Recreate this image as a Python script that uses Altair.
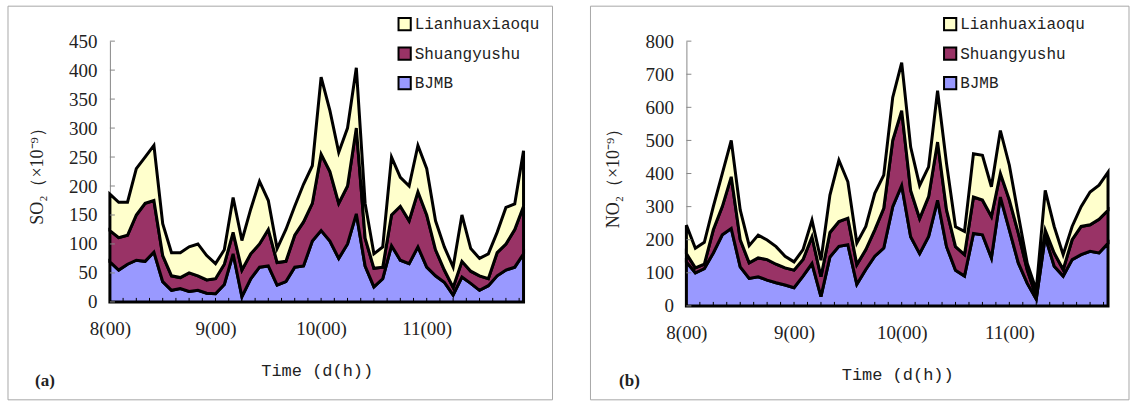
import altair as alt
import pandas as pd

# ---------------- data ----------------
hours = list(range(0, 96, 2))            # hours since day 8, 00h
series_names = ["Lianhuaxiaoqu", "Shuangyushu", "BJMB"]
series_colors = ["#FFFFCC", "#993366", "#9999FF"]
day_ticks = [0, 24, 48, 72]
day_labels = ["8(00)", "9(00)", "10(00)", "11(00)"]
hour_ticks = list(range(0, 94, 3))
so2_ticks = list(range(0, 451, 50))
no2_ticks = list(range(0, 801, 100))

# SO2: upper edge of BJMB, of BJMB+Shuangyushu, and of the total stack
so2_bjmb = [69, 55, 65, 72, 70, 86, 35, 20, 23, 18, 20, 15,
            14, 30, 83, 9, 40, 60, 62, 29, 35, 60, 62, 105,
            123, 105, 75, 100, 152, 62, 26, 40, 97, 72, 66, 95,
            60, 45, 34, 12, 43, 32, 20, 28, 45, 55, 60, 83]
so2_mid = [123, 111, 115, 150, 170, 175, 80, 45, 42, 50, 45, 38,
           40, 65, 120, 55, 83, 100, 125, 68, 70, 115, 138, 170,
           255, 225, 170, 200, 300, 110, 58, 60, 150, 165, 140, 190,
           150, 90, 55, 25, 70, 53, 45, 40, 85, 100, 125, 165]
so2_total = [186, 172, 172, 230, 250, 270, 135, 85, 85, 95, 100, 80,
             66, 90, 180, 106, 160, 208, 175, 92, 125, 165, 203, 235,
             388, 330, 258, 300, 404, 170, 83, 95, 250, 215, 200, 270,
             230, 140, 95, 60, 150, 92, 75, 83, 120, 163, 169, 261]

# NO2
no2_bjmb = [133, 100, 113, 160, 215, 234, 118, 83, 88, 78, 70, 63,
            55, 90, 128, 28, 148, 180, 185, 65, 110, 150, 175, 300,
            364, 209, 158, 210, 319, 179, 108, 90, 219, 215, 145, 329,
            230, 130, 68, 20, 209, 120, 90, 140, 155, 165, 160, 189]
no2_mid = [158, 115, 126, 230, 300, 390, 200, 130, 145, 140, 126, 115,
           108, 140, 209, 88, 222, 255, 265, 125, 170, 230, 295, 500,
           590, 349, 264, 330, 495, 290, 179, 155, 329, 320, 270, 400,
           320, 220, 108, 28, 229, 160, 110, 200, 240, 245, 262, 289]
no2_total = [244, 174, 192, 300, 400, 500, 290, 182, 214, 199, 179, 150,
             133, 170, 259, 138, 335, 440, 375, 190, 240, 340, 395, 630,
             735, 480, 364, 420, 650, 430, 239, 225, 460, 455, 360, 530,
             425, 275, 128, 48, 349, 240, 155, 240, 300, 344, 365, 404]


def stack_frame(bottom, middle, total):
    rows = []
    for i, h in enumerate(hours):
        rows.append({"hour": h, "series": "BJMB", "value": bottom[i], "k": 0})
        rows.append({"hour": h, "series": "Shuangyushu", "value": middle[i] - bottom[i], "k": 1})
        rows.append({"hour": h, "series": "Lianhuaxiaoqu", "value": total[i] - middle[i], "k": 2})
    return pd.DataFrame(rows)


label_expr = " : ".join(
    f"datum.value == {t} ? '{l}'" for t, l in zip(day_ticks, day_labels)
) + " : ''"

SERIF = "Liberation Serif"
MONO = "Liberation Mono"
TXT = "#222222"


def panel(df, yticks, ytitle, w, h, tag, border_left, border_right, legend_x, tag_x):
    xscale = alt.Scale(domain=[0, 94], nice=False, zero=False)
    yscale = alt.Scale(domain=[0, yticks[-1]], nice=False)
    xaxis = alt.Axis(values=day_ticks, labelExpr=label_expr, ticks=False,
                     domain=False, grid=False, labelFlush=False,
                     labelFont=SERIF, labelFontSize=19, labelColor=TXT,
                     labelPadding=18, title="Time (d(h))", titleFont=MONO,
                     titleFontSize=17, titleFontWeight="normal",
                     titleColor=TXT, titlePadding=24)
    yaxis = alt.Axis(values=yticks, ticks=False, grid=False,
                     domainColor="#888888", domainWidth=1,
                     labelFont=SERIF, labelFontSize=19, labelColor=TXT,
                     labelPadding=13, title=ytitle, titleFont=SERIF,
                     titleFontSize=18, titleFontWeight="normal",
                     titleColor=TXT, titlePadding=22)

    border = alt.Chart(pd.DataFrame({"b": [0]})).mark_rect(
        fillOpacity=0, stroke="#a8a8a8", strokeWidth=1
    ).encode(
        x=alt.value(border_left), x2=alt.value(border_right),
        y=alt.value(-35), y2=alt.value(359)
    )

    area = alt.Chart(df).mark_area(
        stroke="black", strokeWidth=3, strokeJoin="miter", strokeMiterLimit=4
    ).encode(
        x=alt.X("hour:Q", scale=xscale, axis=xaxis),
        y=alt.Y("value:Q", stack="zero", scale=yscale, axis=yaxis),
        color=alt.Color("series:N",
                        scale=alt.Scale(domain=series_names, range=series_colors),
                        legend=alt.Legend(orient="none", legendX=legend_x, legendY=-25,
                                          title=None, symbolType="square",
                                          symbolSize=150, symbolStrokeColor="black",
                                          symbolStrokeWidth=2, symbolOpacity=1,
                                          labelFont=MONO, labelFontSize=16,
                                          labelColor=TXT, rowPadding=7.5,
                                          labelOffset=2, padding=0)),
        order=alt.Order("k:Q", sort="ascending"),
    )

    xt = alt.Chart(pd.DataFrame({"hour": hour_ticks})).mark_rule(
        color="black", strokeWidth=1
    ).encode(x=alt.X("hour:Q", scale=xscale, axis=xaxis),
             y=alt.value(h), y2=alt.value(h - 4))

    yt = alt.Chart(pd.DataFrame({"value": yticks})).mark_rule(
        color="#888888", strokeWidth=1
    ).encode(y=alt.Y("value:Q", scale=yscale, axis=yaxis),
             x=alt.value(0), x2=alt.value(5))

    tg = alt.Chart(pd.DataFrame({"s": [tag]})).mark_text(
        font=SERIF, fontSize=17, fontWeight="bold", color=TXT,
        align="center", baseline="middle"
    ).encode(text="s:N", x=alt.value(tag_x), y=alt.value(340))

    return alt.layer(border, area, xt, yt, tg).properties(width=w, height=h)


pa = panel(stack_frame(so2_bjmb, so2_mid, so2_total), so2_ticks,
           "SO₂（×10⁻⁹）", 414, 261, "(a)", -102, 443, 287, -65)
pb = panel(stack_frame(no2_bjmb, no2_mid, no2_total), no2_ticks,
           "NO₂（×10⁻⁹）", 422, 265, "(b)", -96, 443, 256, -57)

chart = alt.hconcat(pa, pb, spacing=36).resolve_legend(
    color="independent"
).configure_view(strokeOpacity=0).properties(
    padding={"left": 7, "top": 5, "right": 0, "bottom": 0},
    background="white",
)

chart.save("out.html", embed_options={"renderer": "svg", "actions": False})
